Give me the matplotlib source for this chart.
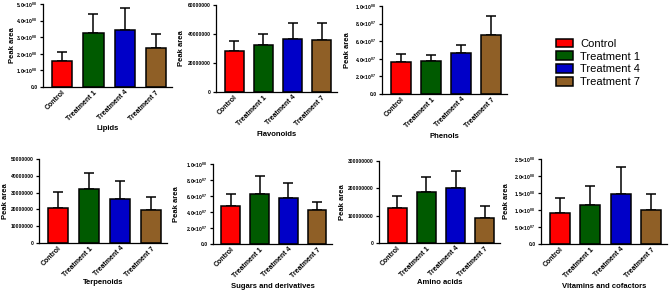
import matplotlib
matplotlib.use("Agg")
import matplotlib.pyplot as plt
from matplotlib.patches import Patch

plt.rcParams['font.family'] = ['Liberation Sans', 'DejaVu Sans']
plt.rcParams['mathtext.fontset'] = 'custom'
plt.rcParams['mathtext.rm'] = 'Liberation Sans:bold'
plt.rcParams['mathtext.it'] = 'Liberation Sans:bold'
plt.rcParams['mathtext.bf'] = 'Liberation Sans:bold'

groups = ['Control', 'Treatment 1', 'Treatment 4', 'Treatment 7']
colors = ['#ff0000', '#005a00', '#0000c8', '#8f5f26']

lipids = [1.56e8, 3.24e8, 3.46e8, 2.35e8]
lipids_sd = [0.57e8, 1.17e8, 1.30e8, 0.87e8]
flavonoids = [28.3e6, 32.4e6, 36.7e6, 35.6e6]
flavonoids_sd = [7.1e6, 7.3e6, 11.2e6, 11.9e6]
phenols = [3.66e7, 3.70e7, 4.64e7, 6.68e7]
phenols_sd = [0.87e7, 0.72e7, 0.94e7, 2.22e7]
terpenoids = [21.0e6, 32.0e6, 26.0e6, 19.4e6]
terpenoids_sd = [9.2e6, 9.8e6, 11.2e6, 8.2e6]
sugars = [4.73e7, 6.31e7, 5.73e7, 4.19e7]
sugars_sd = [1.49e7, 2.15e7, 1.86e7, 1.12e7]
amino = [1.29e8, 1.85e8, 2.00e8, 0.93e8]
amino_sd = [0.44e8, 0.56e8, 0.64e8, 0.43e8]
vitamins = [0.92e8, 1.16e8, 1.48e8, 1.00e8]
vitamins_sd = [0.42e8, 0.54e8, 0.78e8, 0.47e8]

lipid_ticks = [0, 1e8, 2e8, 3e8, 4e8, 5e8]
lipid_labels = ['0.0', r'$1.0{\times}10^{08}$', r'$2.0{\times}10^{08}$',
                r'$3.0{\times}10^{08}$', r'$4.0{\times}10^{08}$', r'$5.0{\times}10^{08}$']
flav_ticks = [0, 2e7, 4e7, 6e7]
flav_labels = ['0', '20000000', '40000000', '60000000']
phen_ticks = [0, 2e7, 4e7, 6e7, 8e7, 1e8]
phen_labels = ['0.0', r'$2.0{\times}10^{07}$', r'$4.0{\times}10^{07}$',
               r'$6.0{\times}10^{07}$', r'$8.0{\times}10^{07}$', r'$1.0{\times}10^{08}$']
terp_ticks = [0, 1e7, 2e7, 3e7, 4e7, 5e7]
terp_labels = ['0', '10000000', '20000000', '30000000', '40000000', '50000000']
amino_ticks = [0, 1e8, 2e8, 3e8]
amino_labels = ['0', '100000000', '200000000', '300000000']
vit_ticks = [0, 0.5e8, 1e8, 1.5e8, 2e8, 2.5e8]
vit_labels = ['0.0', r'$5.0{\times}10^{07}$', r'$1.0{\times}10^{08}$',
              r'$1.5{\times}10^{08}$', r'$2.0{\times}10^{08}$', r'$2.5{\times}10^{08}$']

W, H = 669, 293
fig = plt.figure(figsize=(W / 100, H / 100), dpi=100)


def panel(box, vals, sds, ticks, labels, title, title_y, ylab_x):
    l, r, t, b = box
    ax = fig.add_axes([l / W, 1 - b / H, (r - l) / W, (b - t) / H])
    x = range(len(groups))
    ax.bar(x, vals, width=0.65, color=colors, edgecolor='black', linewidth=1.1, zorder=2)
    ax.errorbar(x, vals, yerr=[[0] * len(sds), sds], fmt='none', ecolor='black',
                elinewidth=1.1, capsize=3.5, capthick=1.1, zorder=1)
    ax.set_xlim(-0.62, 3.52)
    ax.set_ylim(0, ticks[-1])
    ax.set_yticks(ticks)
    ax.set_yticklabels(labels, fontsize=3.6, fontweight='bold')
    ax.set_xticks(list(x))
    ax.set_xticklabels(groups, rotation=45, ha='right', rotation_mode='anchor',
                       fontsize=5, fontweight='bold')
    for s in ['top', 'right']:
        ax.spines[s].set_visible(False)
    for s in ['left', 'bottom']:
        ax.spines[s].set_linewidth(0.9)
    ax.tick_params(axis='both', length=2.5, width=0.9, pad=1.5)
    ax.tick_params(axis='x', length=0)
    fig.text(ylab_x / W, 1 - (t + b) / 2 / H, 'Peak area', rotation=90,
             ha='center', va='center', fontsize=5.5, fontweight='bold')
    fig.text((l + r) / 2 / W, 1 - title_y / H, title, ha='center', va='center',
             fontsize=5.5, fontweight='bold')
    return ax


panel((43, 172, 4, 87), lipids, lipids_sd, lipid_ticks, lipid_labels, 'Lipids', 128, 12)
panel((216, 337, 5, 92), flavonoids, flavonoids_sd, flav_ticks, flav_labels, 'Flavonoids', 135, 181)
panel((382, 507, 6, 94), phenols, phenols_sd, phen_ticks, phen_labels, 'Phenols', 136, 348)
panel((39, 167, 159, 243), terpenoids, terpenoids_sd, terp_ticks, terp_labels, 'Terpenoids', 282, 6)
panel((213, 332, 164, 244), sugars, sugars_sd, phen_ticks, phen_labels, 'Sugars and derivatives', 287, 176)
panel((379, 500, 161, 243), amino, amino_sd, amino_ticks, amino_labels, 'Amino acids', 282, 343)
panel((541, 667, 159, 244), vitamins, vitamins_sd, vit_ticks, vit_labels, 'Vitamins and cofactors', 287, 506)

handles = [Patch(facecolor=c, edgecolor='black', linewidth=1.1) for c in colors]
fig.legend(handles, groups, loc='upper left', bbox_to_anchor=(550 / W, 1 - 33 / H),
           frameon=False, fontsize=8, handlelength=1.6, handleheight=0.8,
           labelspacing=0.25, handletextpad=0.6, borderpad=0)

fig.savefig('out.png', dpi=100)
